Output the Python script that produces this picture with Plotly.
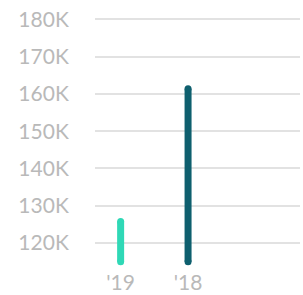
import plotly.graph_objects as go

categories = ["'19", "'18"]
low_values = [115000, 115000]
high_values = [125800, 161400]
colors = ["#2fd8b6", "#0e5f6e"]
tick_vals = [120000, 130000, 140000, 150000, 160000, 170000, 180000]
tick_text = ["120K", "130K", "140K", "150K", "160K", "170K", "180K"]

fig = go.Figure()
for cat, lo, hi, col in zip(categories, low_values, high_values, colors):
    fig.add_trace(go.Scatter(
        x=[cat, cat], y=[lo, hi], mode="lines+markers",
        line=dict(color=col, width=7),
        marker=dict(color=col, size=7, symbol="circle"),
        cliponaxis=False, showlegend=False, hoverinfo="skip",
    ))

font = dict(family="Lato", size=21, color="#b9b9b9")
fig.update_layout(
    width=303, height=295,
    margin=dict(l=95, r=3, t=4, b=27),
    plot_bgcolor="white", paper_bgcolor="white",
    font=font,
    xaxis=dict(type="category", categoryorder="array", categoryarray=categories,
               range=[-0.38, 2.66], showgrid=False, zeroline=False, showline=False,
               ticks="", ticklen=0, tickfont=font, automargin=False),
    yaxis=dict(range=[113300, 184100], tickvals=tick_vals, ticktext=tick_text,
               showgrid=True, gridcolor="#e2e2e2", gridwidth=1.5, zeroline=False,
               showline=False, ticks="outside", ticklen=21,
               tickcolor="rgba(0,0,0,0)", tickfont=font, automargin=False),
)
fig.write_html("out.html", config={"displayModeBar": False},
               post_script="document.body.style.margin='0';document.body.style.overflow='hidden';")
